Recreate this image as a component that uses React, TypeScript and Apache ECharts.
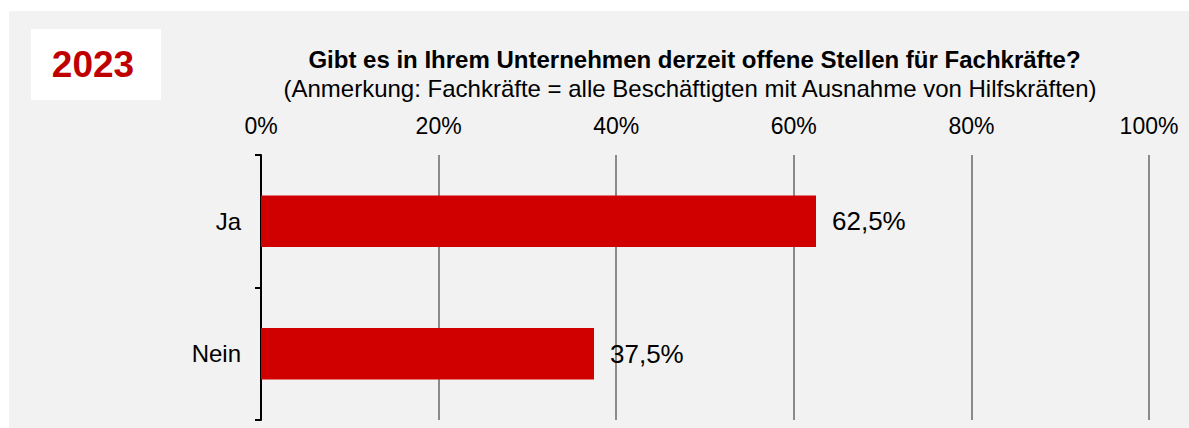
import React, { useEffect, useRef } from "react";
import * as echarts from "echarts";

const categories = ["Ja", "Nein"];
const values = [62.5, 37.5];
const tickValues = [0, 20, 40, 60, 80, 100];
const yearLabel = "2023";
const titleText = "Gibt es in Ihrem Unternehmen derzeit offene Stellen für Fachkräfte?";
const subtitleText = "(Anmerkung: Fachkräfte = alle Beschäftigten mit Ausnahme von Hilfskräften)";

const FONT = "'Liberation Sans', Arial, sans-serif";

export default function App() {
  const ref = useRef<HTMLDivElement>(null);
  useEffect(() => {
    if (!ref.current) return;
    const chart = echarts.init(ref.current, undefined, { renderer: "svg" });
    chart.setOption({
      animation: false,
      backgroundColor: "#ffffff",
      textStyle: { fontFamily: FONT },
      graphic: [
        { type: "rect", z: -10, shape: { x: 9, y: 11, width: 1180, height: 417 }, style: { fill: "#f2f2f2" }, silent: true },
        { type: "rect", z: -9, shape: { x: 31, y: 29, width: 130, height: 71 }, style: { fill: "#ffffff" }, silent: true },
        { type: "text", x: 93, y: 64, style: { text: yearLabel, fill: "#c00000", font: `bold 37px ${FONT}`, align: "center", verticalAlign: "middle" } },
        { type: "text", x: 694.5, y: 59.7, style: { text: titleText, fill: "#000000", font: `bold 24px ${FONT}`, align: "center", verticalAlign: "middle" } },
        { type: "text", x: 690, y: 88.7, style: { text: subtitleText, fill: "#000000", font: `24px ${FONT}`, align: "center", verticalAlign: "middle" } },
      ],
      grid: { left: 261, right: 40, top: 155, bottom: 8, containLabel: false },
      xAxis: {
        type: "value",
        position: "top",
        min: tickValues[0],
        max: tickValues[tickValues.length - 1],
        interval: 20,
        axisLine: { show: false },
        axisTick: { show: false },
        axisLabel: { formatter: "{value}%", fontSize: 23, color: "#000000", margin: 18, fontFamily: FONT },
        splitLine: { show: true, lineStyle: { color: "#8a8a8a", width: 2 } },
      },
      yAxis: {
        type: "category",
        data: categories,
        inverse: true,
        axisLine: { show: true, lineStyle: { color: "#000000", width: 2 } },
        axisTick: { show: true, length: 6, lineStyle: { color: "#000000", width: 2 } },
        axisLabel: { fontSize: 24, color: "#000000", margin: 20, fontFamily: FONT },
        splitLine: { show: false },
      },
      series: [
        {
          type: "bar",
          data: values,
          barWidth: "39%",
          itemStyle: { color: "#d00000" },
          label: {
            show: true,
            position: "right",
            distance: 16,
            fontSize: 26,
            color: "#000000",
            fontFamily: FONT,
            formatter: (p: any) => `${String(p.value).replace(".", ",")}%`,
          },
        },
      ],
    });
    return () => chart.dispose();
  }, []);
  return (
    <div style={{ position: "fixed", left: 0, top: 0, width: 1189, height: 428 }}>
      <div ref={ref} style={{ width: 1189, height: 428 }} />
    </div>
  );
}
